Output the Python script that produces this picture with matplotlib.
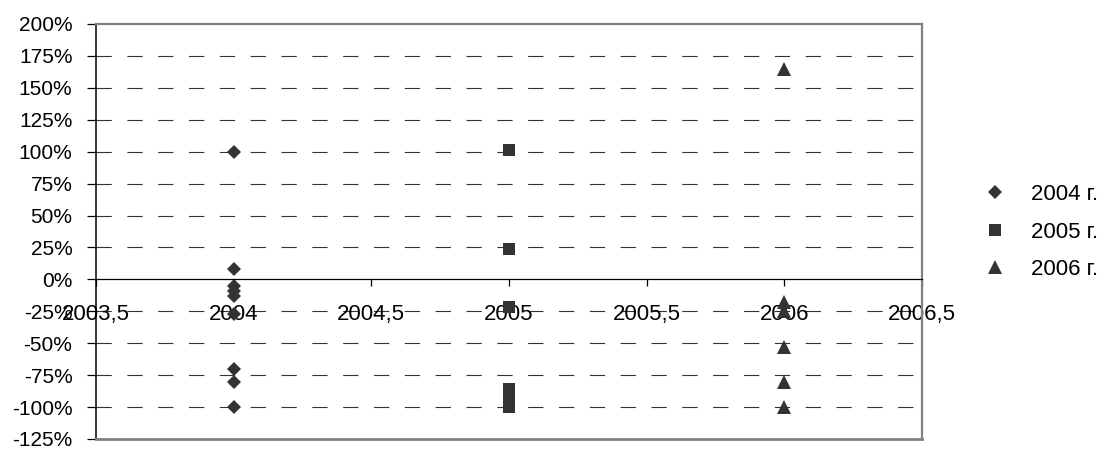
import numpy as np
import matplotlib.pyplot as plt

plt.rcParams['font.family'] = ['Liberation Sans', 'DejaVu Sans']
plt.rcParams['lines.scale_dashes'] = False

# values (per cent)
y_2004 = [100, 8, -5, -9, -13, -27, -70, -80, -100]
y_2005 = [101, 24, -22, -86, -91, -96, -100]
y_2006 = [165, -18, -25, -53, -80, -100]
x_years = [2004, 2005, 2006]
labels = ["2004 г.", "2005 г.", "2006 г."]

x_ticks = [2003.5, 2004, 2004.5, 2005, 2005.5, 2006, 2006.5]
x_tick_labels = ["2003,5", "2004", "2004,5", "2005", "2005,5", "2006", "2006,5"]
y_ticks = list(range(-125, 201, 25))
y_tick_labels = [f"{v}%" for v in y_ticks]

fig = plt.figure(figsize=(10.99, 4.5), dpi=100)
ax = fig.add_axes([96 / 1099, 1 - 439 / 450, (922 - 96) / 1099, (439 - 24) / 450])

# x axis crosses at 0 (set before ticks, it resets them)
ax.spines['bottom'].set_position(('data', 0))

# dashed gridlines
for v in y_ticks:
    if v in (-125, 0, 200):
        continue
    ax.axhline(v, color="#333333", lw=0.8, dashes=(11, 11.2), zorder=1)

color = "#333333"
series = [y_2004, y_2005, y_2006]
markers = ["D", "s", "^"]
sizes = [6.8, 8.4, 9.6]
for xv, ys, m, ms, lab in zip(x_years, series, markers, sizes, labels):
    ax.plot(np.full(len(ys), xv), ys, linestyle="none", marker=m, markersize=ms,
            color=color, markeredgewidth=0, label=lab, zorder=2)

ax.set_xlim(2003.5, 2006.5)
ax.set_ylim(-125, 200)

ax.set_xticks(x_ticks)
ax.set_xticklabels(x_tick_labels, fontsize=16)
ax.set_yticks(y_ticks)
ax.set_yticklabels(y_tick_labels, fontsize=15)

ax.spines['bottom'].set_color("black")
ax.spines['bottom'].set_linewidth(0.9)
ax.spines['left'].set_color("black")
ax.spines['left'].set_linewidth(1.1)
for s in ('top', 'right'):
    ax.spines[s].set_color("#808080")
    ax.spines[s].set_linewidth(1.6)
ax.axhline(-125, color="#808080", lw=2.0, zorder=3, clip_on=False)

ax.tick_params(axis='x', direction='out', length=5, width=0.9, pad=13)
ax.tick_params(axis='y', direction='out', length=6.5, width=0.9, pad=10.5)

ax.legend(loc='center left', bbox_to_anchor=(984 / 1099, 1 - 232 / 450),
          bbox_transform=fig.transFigure, frameon=False, fontsize=16,
          handlelength=1.0, handletextpad=1.1, borderpad=0, borderaxespad=0,
          labelspacing=0.75)

fig.savefig("out.png", dpi=100)
